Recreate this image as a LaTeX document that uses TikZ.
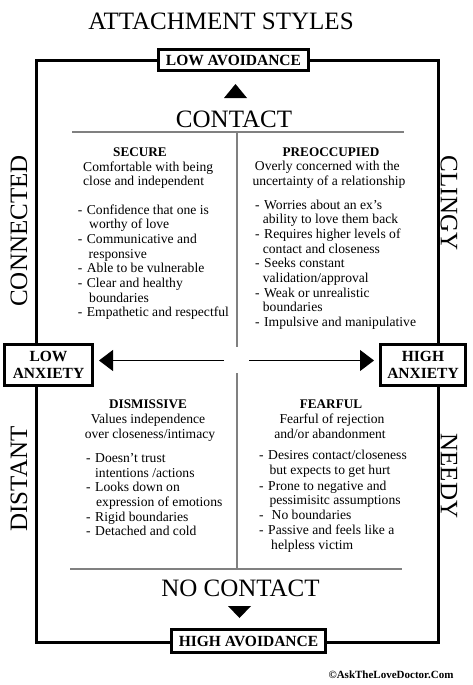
\documentclass[tikz,border=0pt]{standalone}
\usepackage{fontspec}
\setmainfont{Liberation Serif}
\usetikzlibrary{arrows.meta}
\newcommand\dashitem{\makebox[9pt][l]{-}}
\newcommand\dashitemw{\makebox[12.5pt][l]{-}}
\begin{document}
\begin{tikzpicture}[x=1pt,y=-1pt,
  body/.style={anchor=base west,inner sep=0pt,font=\fontsize{13.6}{14.7}\selectfont},
  bodyc/.style={anchor=base,inner sep=0pt,font=\fontsize{13.6}{14.7}\selectfont},
  head/.style={anchor=base,inner sep=0pt,font=\fontsize{13.2}{14}\selectfont\bfseries},
  big/.style={anchor=base,inner sep=0pt,font=\fontsize{25}{28}\selectfont},
  side/.style={inner sep=0pt,font=\fontsize{25}{28}\selectfont},
  tagbox/.style={draw=black,line width=3pt,fill=white,inner sep=0pt,align=center,
     font=\fontsize{15.5}{17}\selectfont\bfseries},
  frame/.style={line width=3pt},
  quad/.style={draw=gray,line width=1.2pt},
  arr/.style={line width=1pt,-{Triangle[width=21pt,length=14pt]},shorten >=5pt}]
\useasboundingbox (0,0) rectangle (473,685);
\fill[white] (0,0) rectangle (473,685);

% title
\node[big] (title) at (221,30) {ATTACHMENT STYLES};

% frame
\draw[frame] (36,61) rectangle (438,642);

% tag boxes
\node[tagbox,minimum width=150pt,minimum height=21pt] (lowav) at (233.5,60) {LOW AVOIDANCE};
\node[tagbox,minimum width=154pt,minimum height=23pt] (highav) at (248.5,641) {HIGH AVOIDANCE};
\node[tagbox,minimum width=88pt,minimum height=41pt] (lowanx) at (48.5,365) {LOW\\ANXIETY};
\node[tagbox,minimum width=85pt,minimum height=41pt] (highanx) at (423,365) {HIGH\\ANXIETY};

% triangles
\fill (224,98) -- (247,98) -- (235.5,84) -- cycle;
\fill (228,606) -- (251,606) -- (239.5,618) -- cycle;

% contact labels
\node[big] (contact) at (234,127) {CONTACT};
\node[big] (nocontact) at (240.5,596) {NO CONTACT};

% quadrant lines
\draw[quad] (72,132) -- (404,132);
\draw[quad] (70,569) -- (402,569);
\draw[quad] (237,132) -- (237,347);
\draw[quad] (237,373) -- (237,569);

% horizontal arrows
\coordinate (la0) at (224,360.5);
\coordinate (ra0) at (249,360.5);
\draw[arr] (la0) -- (lowanx.east |- la0);
\draw[arr] (ra0) -- (highanx.west |- ra0);

% side labels
\node[side,rotate=90] (connected) at (19,231) {CONNECTED};
\node[side,rotate=90] (distant) at (19,479) {DISTANT};
\node[side,rotate=-90] (clingy) at (449,203) {CLINGY};
\node[side,rotate=-90] (needy) at (449,476) {NEEDY};

% SECURE
\node[head] (sech) at (140,156.5) {SECURE};
\node[body] (secs1) at (83,171) {Comfortable with being};
\node[body] (secs2) at (83,185.7) {close and independent};
\node[body] (sb1) at (77.7,214) {\dashitem Confidence that one is};
\node[body] (sb1c) at (89,228.7) {worthy of love};
\node[body] (sb2) at (77.7,243.3) {\dashitem Communicative and};
\node[body] (sb2c) at (88.5,258) {responsive};
\node[body] (sb3) at (77.7,272.7) {\dashitem Able to be vulnerable};
\node[body] (sb4) at (77.7,287.3) {\dashitem Clear and healthy};
\node[body] (sb4c) at (89,302) {boundaries};
\node[body] (sb5) at (77.7,316.7) {\dashitem Empathetic and respectful};

% PREOCCUPIED
\node[head] (preh) at (331,156.5) {PREOCCUPIED};
\node[bodyc] (pres1) at (327.3,170) {Overly concerned with the};
\node[bodyc] (pres2) at (329,185) {uncertainty of a relationship};
\node[body] (pb1) at (255,209) {\dashitem Worries about an ex’s};
\node[body] (pb1c) at (262.7,223.7) {ability to love them back};
\node[body] (pb2) at (255,238.3) {\dashitem Requires higher levels of};
\node[body] (pb2c) at (262.7,253) {contact and closeness};
\node[body] (pb3) at (255,267.7) {\dashitem Seeks constant};
\node[body] (pb3c) at (262.7,282.3) {validation/approval};
\node[body] (pb4) at (255,297) {\dashitem Weak or unrealistic};
\node[body] (pb4c) at (262.7,311.7) {boundaries};
\node[body] (pb5) at (255,326.3) {\dashitem Impulsive and manipulative};

% DISMISSIVE
\node[head] (dish) at (148,408.5) {DISMISSIVE};
\node[bodyc] (diss1) at (148,423.3) {Values independence};
\node[bodyc] (diss2) at (150,438) {over closeness/intimacy};
\node[body] (db1) at (86,462.3) {\dashitem Doesn’t trust};
\node[body] (db1c) at (95,477) {intentions /actions};
\node[body] (db2) at (86,491.7) {\dashitem Looks down on};
\node[body] (db2c) at (96,506.3) {expression of emotions};
\node[body] (db3) at (86,521) {\dashitem Rigid boundaries};
\node[body] (db4) at (86,535.7) {\dashitem Detached and cold};

% FEARFUL
\node[head] (feah) at (331,408.5) {FEARFUL};
\node[bodyc] (feas1) at (332,423.3) {Fearful of rejection};
\node[bodyc] (feas2) at (330,438) {and/or abandonment};
\node[body] (fb1) at (259,459.7) {\dashitem Desires contact/closeness};
\node[body] (fb1c) at (269.3,474.7) {but expects to get hurt};
\node[body] (fb2) at (259,490) {\dashitem Prone to negative and};
\node[body] (fb2c) at (269.3,504.7) {pessimisitc assumptions};
\node[body] (fb3) at (259,519) {\dashitemw No boundaries};
\node[body] (fb4) at (259,534) {\dashitem Passive and feels like a};
\node[body] (fb4c) at (271,549) {helpless victim};

% copyright
\node[inner sep=0pt,font=\fontsize{11}{12}\selectfont\bfseries] (copy) at (391,675) {©AskTheLoveDoctor.Com};
\end{tikzpicture}
\end{document}
